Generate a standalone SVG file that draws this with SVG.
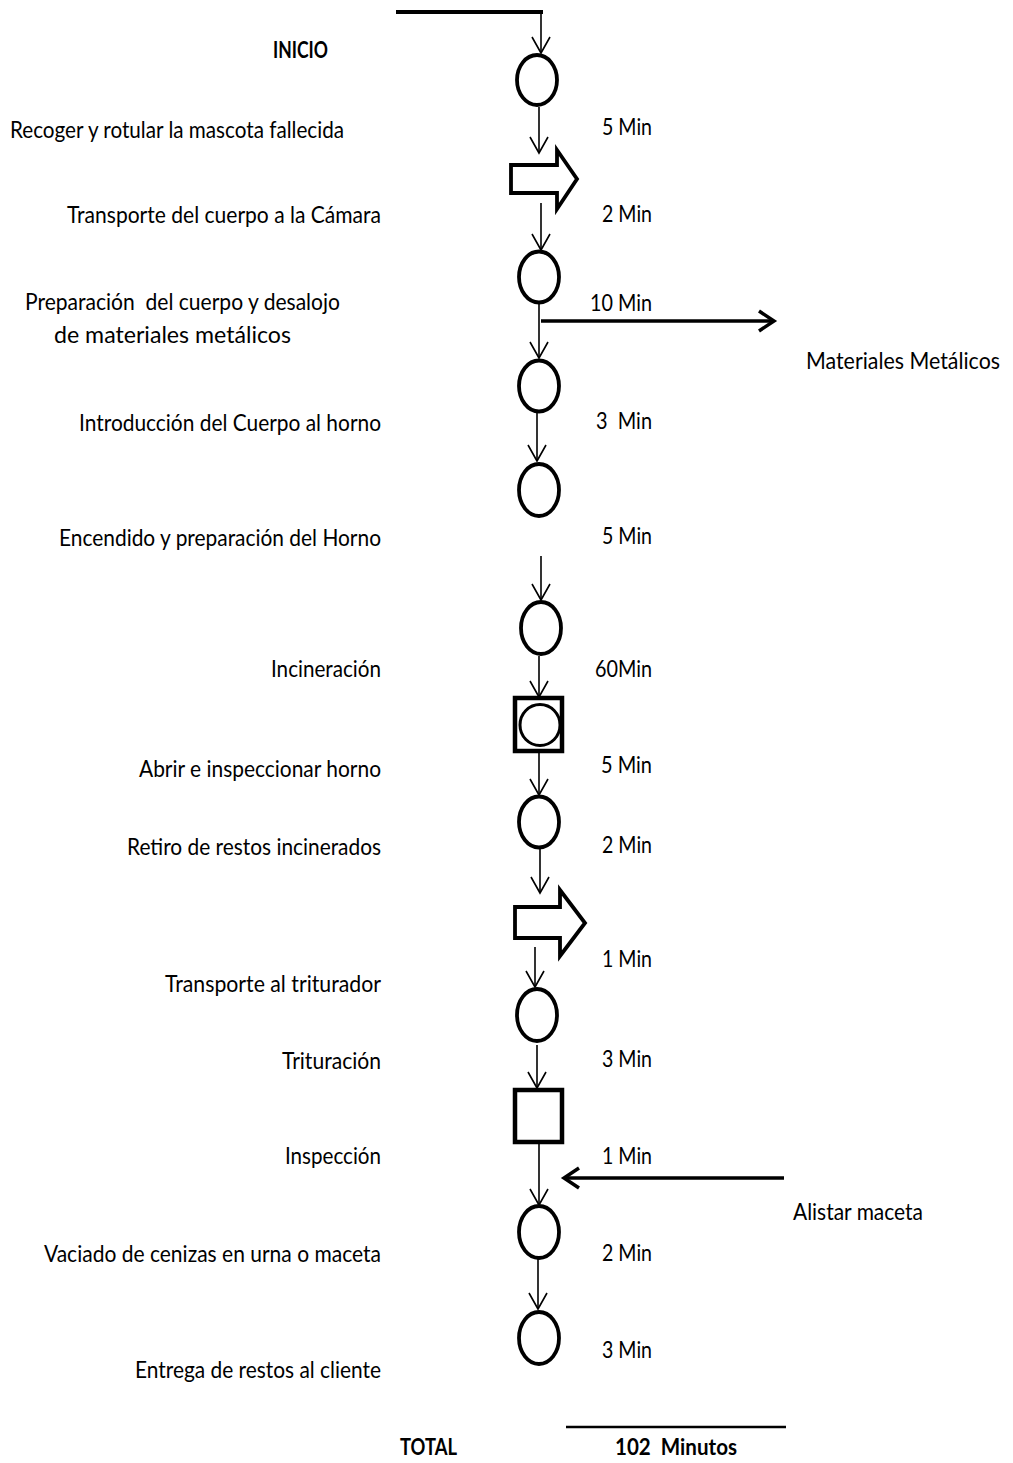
<svg xmlns="http://www.w3.org/2000/svg" width="1013" height="1463" viewBox="0 0 1013 1463">
<style>
.t{font-family:Lato,"Liberation Sans",sans-serif;font-size:23px;fill:#000}
.b{font-weight:bold}
.sym{fill:#fff;stroke:#000;stroke-width:3.8}
.thin{stroke:#000;stroke-width:1.6;fill:none}
.thick{stroke:#000;stroke-width:3.5;fill:none}
</style>
<defs>
<marker id="v" markerUnits="userSpaceOnUse" viewBox="-20 -12 24 24" refX="0" refY="0" markerWidth="24" markerHeight="24" orient="auto" overflow="visible">
<path d="M-16,-9 L0,0 L-16,9" fill="none" stroke="#000" stroke-width="1.6"/>
</marker>
<marker id="vt" markerUnits="userSpaceOnUse" viewBox="-20 -12 24 24" refX="0" refY="0" markerWidth="24" markerHeight="24" orient="auto" overflow="visible">
<path d="M-15,-10 L0,0 L-15,10" fill="none" stroke="#000" stroke-width="3.5"/>
</marker>
</defs>
<rect width="1013" height="1463" fill="#fff"/>

<g id="connectors">
<line x1="396" y1="12" x2="543" y2="12" stroke="#000" stroke-width="4"/>
<line class="thin" x1="541" y1="12" x2="541" y2="53" marker-end="url(#v)"/>
<line class="thin" x1="539" y1="107" x2="539" y2="153" marker-end="url(#v)"/>
<line class="thin" x1="541" y1="203" x2="541" y2="250" marker-end="url(#v)"/>
<line class="thin" x1="539" y1="304" x2="539" y2="358" marker-end="url(#v)"/>
<line class="thick" x1="541" y1="321" x2="774" y2="321" marker-end="url(#vt)"/>
<line class="thin" x1="537" y1="413" x2="537" y2="461" marker-end="url(#v)"/>
<line class="thin" x1="541" y1="556" x2="541" y2="600" marker-end="url(#v)"/>
<line class="thin" x1="539" y1="656" x2="539" y2="697" marker-end="url(#v)"/>
<line class="thin" x1="539" y1="753" x2="539" y2="795" marker-end="url(#v)"/>
<line class="thin" x1="540" y1="849" x2="540" y2="893" marker-end="url(#v)"/>
<line class="thin" x1="535" y1="947" x2="535" y2="987" marker-end="url(#v)"/>
<line class="thin" x1="537" y1="1045" x2="537" y2="1088" marker-end="url(#v)"/>
<line class="thin" x1="539" y1="1144" x2="539" y2="1205" marker-end="url(#v)"/>
<line class="thick" x1="784" y1="1178" x2="564" y2="1178" marker-end="url(#vt)"/>
<line class="thin" x1="538" y1="1258" x2="538" y2="1309" marker-end="url(#v)"/>
<line x1="566" y1="1427" x2="786" y2="1427" stroke="#000" stroke-width="2.5"/>
</g>

<g id="n-inicio"><text class="t b" x="273" y="58" textLength="55" lengthAdjust="spacingAndGlyphs">INICIO</text></g>

<g id="n1">
<ellipse class="sym" cx="537" cy="80" rx="20" ry="25"/>
<text class="t" x="10" y="138" textLength="334" lengthAdjust="spacingAndGlyphs">Recoger y rotular la mascota fallecida</text>
<text class="t" x="602" y="135" textLength="50" lengthAdjust="spacingAndGlyphs">5 Min</text>
</g>

<g id="n2">
<polygon class="sym" points="511,165 557,165 557,150 577,179 557,209 557,193 511,193"/>
<text class="t" x="67" y="223" textLength="314" lengthAdjust="spacingAndGlyphs">Transporte del cuerpo a la Cámara</text>
<text class="t" x="602" y="222" textLength="50" lengthAdjust="spacingAndGlyphs">2 Min</text>
</g>

<g id="n3">
<ellipse class="sym" cx="539" cy="277" rx="20" ry="25.5"/>
<text class="t" x="25" y="310" textLength="315" lengthAdjust="spacingAndGlyphs" xml:space="preserve">Preparación  del cuerpo y desalojo</text>
<text class="t" x="54" y="343" textLength="237" lengthAdjust="spacingAndGlyphs">de materiales metálicos</text>
<text class="t" x="590" y="311" textLength="62" lengthAdjust="spacingAndGlyphs">10 Min</text>
</g>

<g id="n-metal">
<text class="t" x="806" y="369" textLength="194" lengthAdjust="spacingAndGlyphs">Materiales Metálicos</text>
</g>

<g id="n4">
<ellipse class="sym" cx="539" cy="386" rx="20" ry="25.5"/>
<text class="t" x="79" y="431" textLength="302" lengthAdjust="spacingAndGlyphs">Introducción del Cuerpo al horno</text>
<text class="t" x="596" y="429" textLength="56" lengthAdjust="spacingAndGlyphs" xml:space="preserve">3  Min</text>
</g>

<g id="n5">
<ellipse class="sym" cx="539" cy="490" rx="20" ry="26"/>
<text class="t" x="59" y="546" textLength="322" lengthAdjust="spacingAndGlyphs">Encendido y preparación del Horno</text>
<text class="t" x="602" y="544" textLength="50" lengthAdjust="spacingAndGlyphs">5 Min</text>
</g>

<g id="n6">
<ellipse class="sym" cx="541" cy="628" rx="20" ry="26"/>
<text class="t" x="271" y="677" textLength="110" lengthAdjust="spacingAndGlyphs">Incineración</text>
<text class="t" x="595" y="677" textLength="57" lengthAdjust="spacingAndGlyphs">60Min</text>
</g>

<g id="n7">
<rect x="515" y="698" width="47" height="53" fill="#fff" stroke="#000" stroke-width="4.5"/>
<ellipse cx="540" cy="725" rx="20" ry="20.5" fill="#fff" stroke="#000" stroke-width="3"/>
<text class="t" x="139" y="777" textLength="242" lengthAdjust="spacingAndGlyphs">Abrir e inspeccionar horno</text>
<text class="t" x="601" y="773" textLength="51" lengthAdjust="spacingAndGlyphs">5 Min</text>
</g>

<g id="n8">
<ellipse class="sym" cx="539" cy="822" rx="20" ry="25.5"/>
<text class="t" x="127" y="855" textLength="254" lengthAdjust="spacingAndGlyphs">Retiro de restos incinerados</text>
<text class="t" x="602" y="853" textLength="50" lengthAdjust="spacingAndGlyphs">2 Min</text>
</g>

<g id="n9">
<polygon class="sym" points="515,907 560,907 560,890 585,923 560,956 560,938 515,938"/>
<text class="t" x="165" y="992" textLength="216" lengthAdjust="spacingAndGlyphs">Transporte al triturador</text>
<text class="t" x="602" y="967" textLength="50" lengthAdjust="spacingAndGlyphs">1 Min</text>
</g>

<g id="n10">
<ellipse class="sym" cx="537" cy="1015" rx="20" ry="26"/>
<text class="t" x="282" y="1069" textLength="99" lengthAdjust="spacingAndGlyphs">Trituración</text>
<text class="t" x="602" y="1067" textLength="50" lengthAdjust="spacingAndGlyphs">3 Min</text>
</g>

<g id="n11">
<rect x="515" y="1090" width="47" height="52" fill="#fff" stroke="#000" stroke-width="4.5"/>
<text class="t" x="285" y="1164" textLength="96" lengthAdjust="spacingAndGlyphs">Inspección</text>
<text class="t" x="602" y="1164" textLength="50" lengthAdjust="spacingAndGlyphs">1 Min</text>
</g>

<g id="n-maceta">
<text class="t" x="793" y="1220" textLength="130" lengthAdjust="spacingAndGlyphs">Alistar maceta</text>
</g>

<g id="n12">
<ellipse class="sym" cx="539" cy="1232" rx="20" ry="26"/>
<text class="t" x="44" y="1262" textLength="337" lengthAdjust="spacingAndGlyphs">Vaciado de cenizas en urna o maceta</text>
<text class="t" x="602" y="1261" textLength="50" lengthAdjust="spacingAndGlyphs">2 Min</text>
</g>

<g id="n13">
<ellipse class="sym" cx="539" cy="1338" rx="20" ry="26"/>
<text class="t" x="135" y="1378" textLength="246" lengthAdjust="spacingAndGlyphs">Entrega de restos al cliente</text>
<text class="t" x="602" y="1358" textLength="50" lengthAdjust="spacingAndGlyphs">3 Min</text>
</g>

<g id="n-total">
<text class="t b" x="400" y="1455" textLength="57" lengthAdjust="spacingAndGlyphs">TOTAL</text>
<text class="t b" x="615" y="1455" textLength="122" lengthAdjust="spacingAndGlyphs" xml:space="preserve">102  Minutos</text>
</g>
</svg>
